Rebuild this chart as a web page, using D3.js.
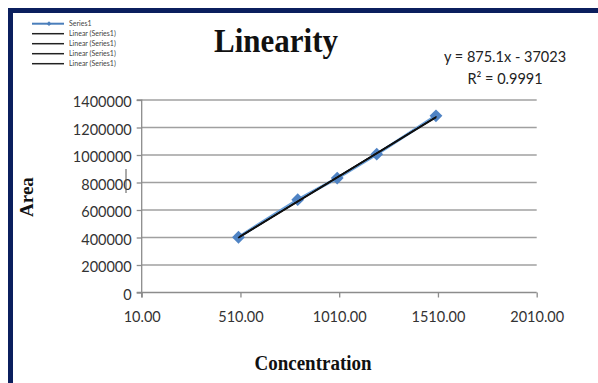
<!DOCTYPE html>
<html><head><meta charset="utf-8">
<script src="https://cdn.jsdelivr.net/npm/d3@7"></script>
<style>
html,body{margin:0;padding:0;background:#fff;}
svg{display:block;}
</style></head>
<body>
<svg id="c" width="598" height="383"></svg>
<script>
// ---- data ----
const concentrations = [500, 800, 1000, 1200, 1500];
const areas = [402000, 675000, 832000, 1006000, 1285000];
const xTicks = [10, 510, 1010, 1510, 2010];
const yTicks = [0, 200000, 400000, 600000, 800000, 1000000, 1200000, 1400000];
const trendSlope = [875.1];
const trendIntercept = [-37023];
const trendRange = [500, 1500];
const legendLabels = ["Series1", "Linear (Series1)", "Linear (Series1)", "Linear (Series1)", "Linear (Series1)"];
const titleText = "Linearity";
const xTitle = "Concentration";
const yTitle = "Area";
const eqText = ["y = 875.1x - 37023", "R² = 0.9991"];

const svg = d3.select("#c");
const navy = "#0b1f5e";
const blue = "#4a7ebb";
const sans = "Lato, 'Open Sans', sans-serif";
const serif = "'Liberation Serif', 'DejaVu Serif', serif";

// frame (top + left)
svg.append("rect").attr("x",8).attr("y",8).attr("width",590).attr("height",5).attr("fill",navy);
svg.append("rect").attr("x",8).attr("y",8).attr("width",5).attr("height",375).attr("fill",navy);

const x = d3.scaleLinear().domain([10, 2010]).range([141.7, 536.7]);
const y = d3.scaleLinear().domain([0, 1400000]).range([292.5, 100]);

// gridlines
svg.append("g").selectAll("line").data(yTicks.slice(1)).join("line")
  .attr("x1", x(10)).attr("x2", x(2010))
  .attr("y1", d=>y(d)).attr("y2", d=>y(d))
  .attr("stroke","#a0a0a0").attr("stroke-width",1.3);

// y axis
const yAxis = svg.append("g").attr("transform",`translate(${x(10)},0)`)
  .call(d3.axisLeft(y).tickValues(yTicks).tickFormat(d3.format("d")).tickSize(5).tickPadding(5));
yAxis.select(".domain").attr("stroke","#8c8c8c").attr("stroke-width",1.3).attr("d",`M-5,${y(1400000)}H0V${y(0)+5}`);
yAxis.selectAll(".tick line").attr("stroke","#8c8c8c").attr("stroke-width",1.3);
yAxis.selectAll(".tick text").attr("font-family",sans).attr("font-size","14.5px").attr("fill","#333").attr("dy","0.45em");

// x axis
const xAxis = svg.append("g").attr("transform",`translate(0,${y(0)})`)
  .call(d3.axisBottom(x).tickValues(xTicks).tickFormat(d3.format(".2f")).tickSize(5).tickPadding(14));
xAxis.select(".domain").attr("stroke","#8c8c8c").attr("stroke-width",1.3).attr("d",`M${x(10)-5},0H${x(2010)}`);
xAxis.selectAll(".tick line").attr("stroke","#8c8c8c").attr("stroke-width",1.3);
xAxis.selectAll(".tick text").attr("font-family",sans).attr("font-size","14.5px").attr("fill","#333");

// series line
const pts = concentrations.map((c,i)=>[c, areas[i]]);
svg.append("path").datum(pts)
  .attr("d", d3.line().x(d=>x(d[0])).y(d=>y(d[1])))
  .attr("fill","none").attr("stroke","#6a9fd8").attr("stroke-width",3);

// markers
const sym = d3.symbol().type(d3.symbolDiamond2).size(105);
svg.append("g").selectAll("path").data(pts).join("path")
  .attr("transform", d=>`translate(${x(d[0])},${y(d[1])})`)
  .attr("d", sym).attr("fill", "#4f83c4");

// trendlines (4 overlapping)
const tr = trendRange.map(c=>[c, trendSlope[0]*c + trendIntercept[0]]);
[[0,0],[0.6,-0.6],[-0.5,0.5],[0.3,0.4]].forEach(o=>{
  svg.append("line")
    .attr("x1", x(tr[0][0])+o[0]).attr("y1", y(tr[0][1])+o[1])
    .attr("x2", x(tr[1][0])+o[0]).attr("y2", y(tr[1][1])+o[1])
    .attr("stroke","#111").attr("stroke-width",1.2);
});

// cursor artifact
svg.append("line").attr("x1",126).attr("x2",126).attr("y1",169).attr("y2",193).attr("stroke","#555").attr("stroke-width",1);

// titles
svg.append("text").attr("transform","translate(276,52) scale(1,1.1)").attr("text-anchor","middle")
  .attr("font-family",serif).attr("font-weight","bold").attr("font-size","31px").attr("fill","#111").text(titleText);
svg.append("text").attr("transform","translate(313,370) scale(1,1.1)").attr("text-anchor","middle")
  .attr("font-family",serif).attr("font-weight","bold").attr("font-size","19px").attr("fill","#111").text(xTitle);
svg.append("text").attr("transform","translate(33,197) rotate(-90)").attr("text-anchor","middle")
  .attr("font-family",serif).attr("font-weight","bold").attr("font-size","19px").attr("fill","#111").text(yTitle);

// equation
svg.append("g").selectAll("text").data(eqText).join("text")
  .attr("x",505).attr("y",(d,i)=>62+i*21.5).attr("text-anchor","middle")
  .attr("font-family",sans).attr("font-size","14.5px").attr("fill","#222").text(d=>d);

// legend
const lg = svg.append("g");
legendLabels.forEach((lab,i)=>{
  const yy = 23.7 + i*10;
  lg.append("line").attr("x1",32).attr("x2",64).attr("y1",yy).attr("y2",yy)
    .attr("stroke", i===0 ? blue : "#222").attr("stroke-width", i===0 ? 2 : 1.5);
  if(i===0){
    lg.append("path").attr("transform",`translate(49,${yy})`).attr("d", d3.symbol().type(d3.symbolDiamond2).size(14)).attr("fill",blue);
  }
  lg.append("text").attr("x",69).attr("y",yy).attr("dy","0.35em")
    .attr("font-family",sans).attr("font-size","7px").attr("fill","#444").text(lab);
});
</script>
</body></html>
